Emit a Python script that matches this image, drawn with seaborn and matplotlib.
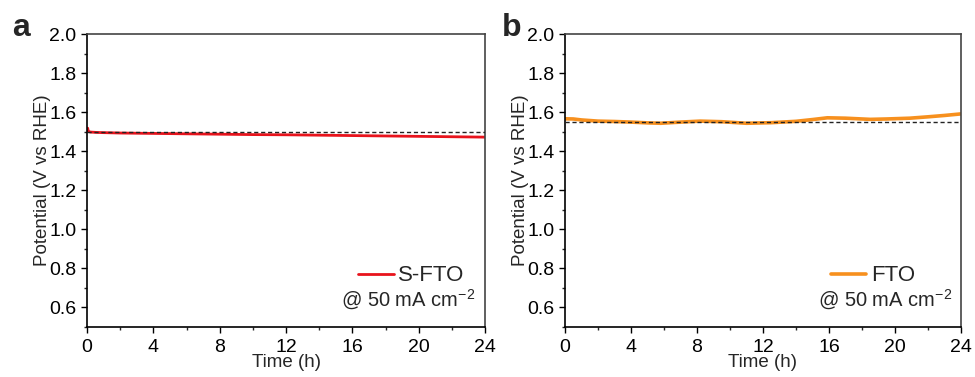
import matplotlib
matplotlib.use("Agg")
import matplotlib.pyplot as plt
import seaborn as sns
import pandas as pd
from matplotlib.ticker import MultipleLocator
from matplotlib.lines import Line2D

sns.set_style("ticks")
plt.rcParams['font.family'] = ['Liberation Sans', 'DejaVu Sans']
plt.rcParams['mathtext.fontset'] = 'custom'
plt.rcParams['mathtext.rm'] = 'Liberation Sans'

# Data
t_sfto = [0.0, 0.04, 0.08, 0.2, 0.6, 1.0, 2.0, 4.0, 6.0, 8.0, 10.0, 12.0, 14.0, 16.0, 18.0, 20.0, 22.0, 24.0]
v_sfto = [1.500, 1.518, 1.502, 1.498, 1.496, 1.495, 1.493, 1.491, 1.489, 1.487, 1.485, 1.484, 1.482, 1.480, 1.478, 1.476, 1.474, 1.472]
ref_sfto = 1.497

t_fto = [0.0, 0.5, 1.0, 2.0, 3.0, 4.0, 5.0, 5.8, 7.0, 8.2, 9.5, 11.0, 12.5, 14.0, 15.0, 15.9, 17.0, 18.5, 19.5, 20.9, 22.0, 23.0, 24.0]
v_fto = [1.566, 1.565, 1.560, 1.554, 1.552, 1.549, 1.545, 1.543, 1.549, 1.554, 1.551, 1.543, 1.546, 1.553, 1.562, 1.571, 1.569, 1.563, 1.565, 1.569, 1.576, 1.583, 1.591]
ref_fto = 1.550

yticks = [0.6, 0.8, 1.0, 1.2, 1.4, 1.6, 1.8, 2.0]
xticks = [0, 4, 8, 12, 16, 20, 24]

panels = [
    dict(t=t_sfto, v=v_sfto, ref=ref_sfto, name="S-FTO", color="#e8131c", lw=2.0, letter="a",
         pos=[87/975, 1-327/377, 398/975, 293/377], letter_x=12/975, leg_x=0.982, txt_x=0.976),
    dict(t=t_fto, v=v_fto, ref=ref_fto, name="FTO", color="#f7901e", lw=2.6, letter="b",
         pos=[565/975, 1-327/377, 396/975, 293/377], letter_x=502/975, leg_x=0.917, txt_x=0.978),
]

fig = plt.figure(figsize=(9.75, 3.77), dpi=100)
for p in panels:
    ax = fig.add_axes(p["pos"])
    df = pd.DataFrame({"Time (h)": p["t"], "Potential": p["v"]})
    sns.lineplot(data=df, x="Time (h)", y="Potential", ax=ax, color=p["color"], lw=p["lw"], legend=False)
    ax.axhline(p["ref"], color="#222222", lw=1.0, ls=(0, (3, 2)), zorder=3)
    ax.set_xlim(0, 24)
    ax.set_ylim(0.5, 2.0)
    ax.set_xticks(xticks)
    ax.set_xticklabels([str(v) for v in xticks])
    ax.xaxis.set_minor_locator(MultipleLocator(2))
    ax.set_yticks(yticks)
    ax.set_yticklabels([f"{v:.1f}" for v in yticks])
    ax.yaxis.set_minor_locator(MultipleLocator(0.1))
    ax.tick_params(which="major", direction="out", length=4.5, width=1, labelsize=14, colors="black")
    ax.tick_params(which="minor", direction="out", length=2.5, width=1)
    ax.tick_params(axis="x", pad=4)
    ax.tick_params(axis="y", pad=3)
    for s in ["left", "bottom"]:
        ax.spines[s].set_color("black")
        ax.spines[s].set_linewidth(1.2)
    for s in ["top", "right"]:
        ax.spines[s].set_visible(True)
        ax.spines[s].set_color("#444444")
        ax.spines[s].set_linewidth(1.2)
    ax.set_xlabel("Time (h)", fontsize=13.5, labelpad=-1)
    ax.set_ylabel("Potential (V vs RHE)", fontsize=13.5, labelpad=-1)
    handle = Line2D([0], [0], color=p["color"], lw=p["lw"])
    ax.legend([handle], [p["name"]], loc="lower right", bbox_to_anchor=(p["leg_x"], 0.093),
              frameon=False, fontsize=16, handlelength=1.6, handletextpad=0.2, borderaxespad=0.2)
    ax.text(p["txt_x"], 0.05, r"@ 50 mA cm$\mathregular{^{-2}}$", transform=ax.transAxes,
            ha="right", va="bottom", fontsize=14.5)
    fig.text(p["letter_x"], 0.885, p["letter"], fontsize=23, fontweight="bold", ha="left", va="bottom")

fig.savefig("out.png", dpi=100)
